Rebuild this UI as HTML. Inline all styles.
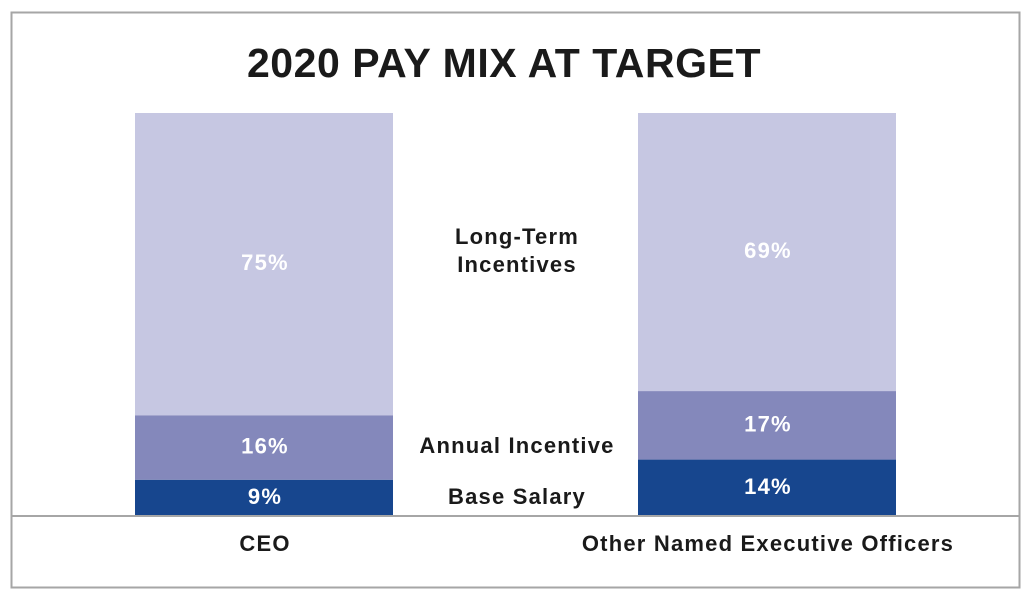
<!DOCTYPE html>
<html><head><meta charset="utf-8"><style>
body{margin:0;background:#fff;width:1035px;height:599px;overflow:hidden}
svg{display:block;font-family:"Liberation Sans",Arial,sans-serif;font-weight:bold}
.lb{letter-spacing:1.2px}
</style></head><body>
<svg id="c" width="1035" height="599">
<rect x="11.5" y="12.5" width="1008" height="575" fill="#fff" stroke="#a6a6a6" stroke-width="2"/>
<text x="504" y="77" text-anchor="middle" font-size="41" fill="#1a1a1a" style="letter-spacing:0.55px">2020 PAY MIX AT TARGET</text>
<g id="bars"></g>
<line x1="11" y1="516" x2="1020" y2="516" stroke="#a6a6a6" stroke-width="2"/>
<text class="lb" x="265" y="551" text-anchor="middle" font-size="22" fill="#1a1a1a">CEO</text>
<text class="lb" x="768" y="551" text-anchor="middle" font-size="22" fill="#1a1a1a">Other Named Executive Officers</text>
<text class="lb" x="517" y="244" text-anchor="middle" font-size="22" fill="#1a1a1a">Long-Term</text>
<text class="lb" x="517" y="272" text-anchor="middle" font-size="22" fill="#1a1a1a">Incentives</text>
<text class="lb" x="517" y="453" text-anchor="middle" font-size="22" fill="#1a1a1a">Annual Incentive</text>
<text class="lb" x="517" y="504" text-anchor="middle" font-size="22" fill="#1a1a1a">Base Salary</text>
</svg>
<script>
const categories=["CEO","Other Named Executive Officers"];
const baseSalary=[9,14];
const annualIncentive=[16,17];
const longTerm=[75,69];
const series=[baseSalary,annualIncentive,longTerm];
const seriesNames=["base-salary","annual-incentive","long-term-incentives"];
const colors=["#17468e","#8488bb","#c6c7e2"];
const y0=516,scale=4.03,barW=258,lefts=[135,638];
const y=v=>y0-v*scale;
const g=document.getElementById('bars');
const NS="http://www.w3.org/2000/svg";
categories.forEach((c,i)=>{
  let cum=0;
  series.forEach((s,k)=>{
    const v=s[i];
    const r=document.createElementNS(NS,'rect');
    r.setAttribute('x',lefts[i]);r.setAttribute('width',barW);
    r.setAttribute('y',y(cum+v));r.setAttribute('height',v*scale);
    r.setAttribute('fill',colors[k]);
    
    
    g.appendChild(r);
    const t=document.createElementNS(NS,'text');
    const mid=y(cum+v/2);
    t.setAttribute('x',lefts[i]+barW/2+1);
    t.setAttribute('y',mid+6);
    t.setAttribute('text-anchor','middle');t.setAttribute('font-size','22');t.setAttribute('fill','#fff');
    t.setAttribute('class','lb');
    t.textContent=v+'%';
    
    
    g.appendChild(t);
    cum+=v;
  });
});
</script>
</body></html>
